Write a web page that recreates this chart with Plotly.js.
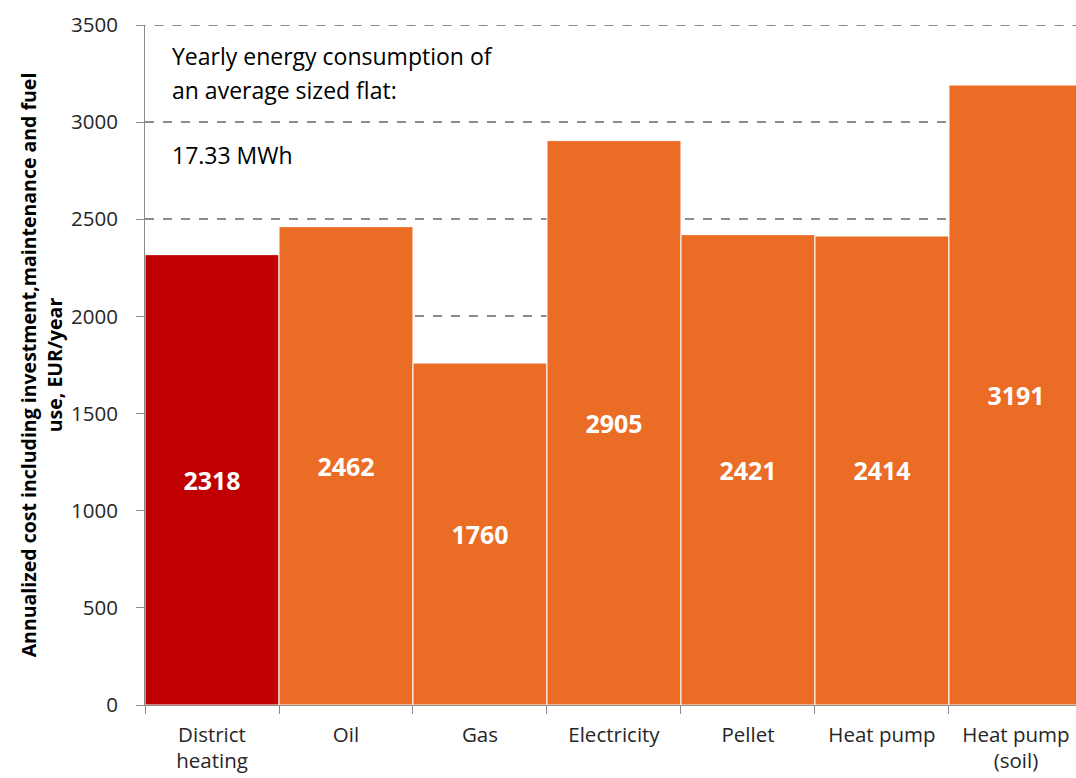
<!DOCTYPE html>
<html>
<head>
<meta charset="utf-8">
<script src="https://cdn.plot.ly/plotly-3.0.1.min.js"></script>
<style>html,body{margin:0;padding:0;background:#fff;}#chart{width:1076px;height:778px;}</style>
</head>
<body>
<div id="chart"></div>
<script>
const categories = ["District<br>heating", "Oil", "Gas", "Electricity", "Pellet", "Heat pump", "Heat pump<br>(soil)"];
const costs = [2318, 2462, 1760, 2905, 2421, 2414, 3191];
const barColors = ["#C00000", "#EA6C25", "#EA6C25", "#EA6C25", "#EA6C25", "#EA6C25", "#EA6C25"];
const yTicks = [0, 500, 1000, 1500, 2000, 2500, 3000, 3500];
const noteLines = ["Yearly energy consumption of", "an average sized flat:", "17.33 MWh"];
const noteLevels = [3340, 3165, 2831];

const font = "Open Sans, Noto Sans, sans-serif";

const trace = {
  type: "bar",
  x: categories,
  y: costs,
  marker: {color: barColors, line: {color: "#ffffff", width: 1}},
  text: costs.map(String),
  textposition: "inside",
  insidetextanchor: "middle",
  textangle: 0,
  textfont: {family: font, size: 25, color: "#ffffff", weight: "bold"},
  hoverinfo: "x+y"
};

const layout = {
  width: 1076, height: 778,
  margin: {l: 145, r: 0, t: 25, b: 73},
  paper_bgcolor: "#ffffff", plot_bgcolor: "#ffffff",
  bargap: 0,
  showlegend: false,
  font: {family: font, size: 20, color: "#262626"},
  xaxis: {
    type: "category",
    range: [-0.5, 6.448],
    tickson: "boundaries",
    ticks: "outside", ticklen: 8, tickcolor: "#8c8c8c", tickwidth: 1,
    showline: true, linecolor: "#8c8c8c", linewidth: 1,
    showgrid: false,
    ticklabelstandoff: 11,
    tickfont: {family: font, size: 20.5, color: "#262626"}
  },
  yaxis: {
    range: [0, 3500],
    tickvals: yTicks,
    ticktext: yTicks.map(String),
    ticks: "outside", ticklen: 8, tickcolor: "#8c8c8c", tickwidth: 1,
    showline: true, linecolor: "#8c8c8c", linewidth: 1,
    showgrid: true, gridcolor: "#8c8c8c", gridwidth: 2, griddash: "dash",
    zeroline: false,
    ticklabelstandoff: 14,
    tickfont: {family: font, size: 20.5, color: "#262626"},
    title: {
      text: "Annualized cost including investment,maintenance and fuel<br>use, EUR/year",
      font: {family: font, size: 19.5, color: "#000000", weight: "bold"},
      standoff: 3
    }
  },
  shapes: [
    {type: "line", xref: "paper", yref: "y", x0: -0.009, x1: 1, y0: yTicks[yTicks.length - 1], y1: yTicks[yTicks.length - 1],
     line: {color: "#8c8c8c", width: 2, dash: "dash"}, layer: "below"}
  ],
  annotations: noteLines.map((t, i) => ({
    xref: "paper", yref: "y", x: 0.027, y: noteLevels[i], xanchor: "left", yanchor: "middle", align: "left",
    text: t, showarrow: false, font: {family: font, size: 23, color: "#000000"}
  }))
};

Plotly.newPlot("chart", [trace], layout, {displayModeBar: false, staticPlot: true});
</script>
</body>
</html>
